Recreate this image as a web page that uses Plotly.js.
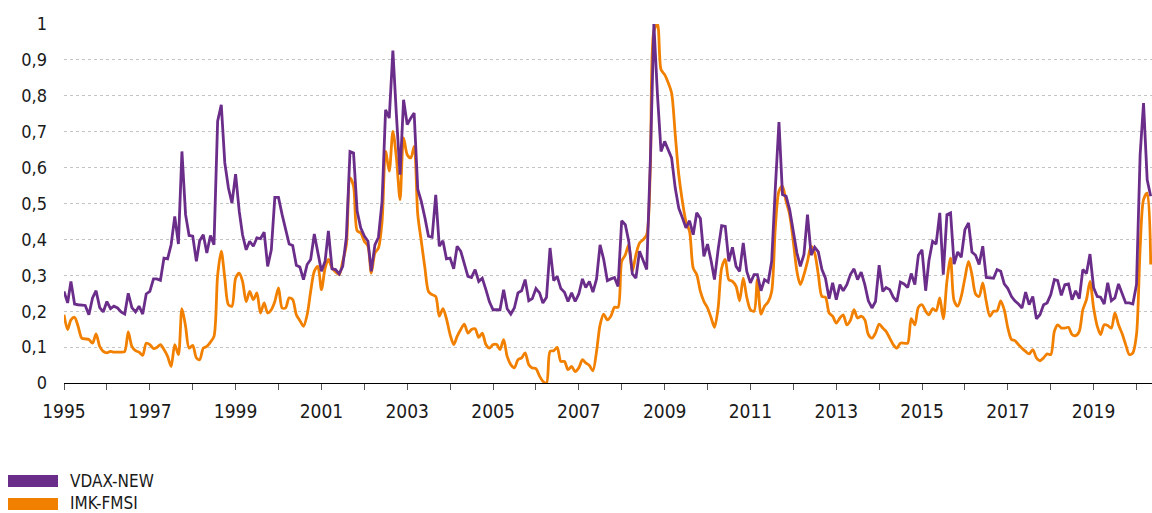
<!DOCTYPE html>
<html>
<head>
<meta charset="utf-8">
<script src="https://cdn.plot.ly/plotly-3.0.1.min.js"></script>
<style>
html,body{margin:0;padding:0;background:#fff;}
#chart{width:1152px;height:513px;}
</style>
</head>
<body>
<div id="chart"></div>
<script>
// Monthly series, January 1995 to May 2020
const startYear = 1995;
const vdaxNew = [
.255,.223,.283,.22,.218,.218,.216,.19,.237,.257,.21,.198,
.227,.207,.214,.209,.198,.192,.25,.21,.198,.214,.192,.248,
.255,.29,.29,.286,.348,.346,.385,.464,.387,.645,.469,.411,
.409,.339,.396,.413,.362,.411,.385,.729,.775,.613,.543,.501,
.582,.478,.413,.371,.395,.381,.404,.402,.42,.325,.371,.517,
.517,.469,.427,.387,.383,.328,.323,.288,.33,.344,.415,.367,
.311,.339,.424,.318,.316,.304,.325,.406,.645,.641,.478,.432,
.409,.395,.311,.385,.406,.506,.761,.738,.926,.747,.58,.789,
.72,.738,.752,.539,.506,.46,.409,.406,.524,.381,.396,.346,
.348,.318,.381,.367,.332,.297,.294,.316,.283,.292,.26,.226,
.204,.203,.204,.26,.207,.192,.209,.251,.257,.288,.229,.235,
.263,.251,.223,.239,.376,.285,.297,.263,.253,.227,.251,.227,
.248,.29,.266,.283,.253,.29,.385,.344,.285,.29,.294,.269,
.452,.441,.395,.304,.292,.367,.344,.316,.62,1.0,.8,.645,
.673,.65,.627,.543,.487,.46,.432,.452,.413,.474,.458,.353,
.387,.339,.288,.371,.438,.436,.339,.378,.325,.311,.39,.311,
.279,.302,.302,.257,.288,.281,.339,.543,.727,.525,.52,.483,
.422,.362,.325,.358,.469,.356,.378,.365,.316,.292,.235,.279,
.232,.274,.257,.274,.302,.318,.288,.309,.274,.229,.209,.227,
.328,.255,.266,.26,.239,.227,.281,.276,.266,.305,.274,.356,
.371,.257,.341,.395,.387,.474,.302,.469,.474,.331,.365,.35,
.427,.446,.365,.356,.33,.381,.294,.292,.292,.316,.311,.276,
.263,.241,.229,.22,.209,.253,.218,.241,.179,.19,.218,.223,
.246,.288,.285,.244,.274,.276,.232,.257,.235,.316,.305,.359,
.265,.241,.239,.22,.279,.229,.237,.276,.248,.223,.223,.22,
.274,.636,.78,.566,.52
];
const imkFmsi = [
.19,.149,.176,.183,.158,.125,.123,.121,.111,.137,.102,.088,
.084,.088,.086,.086,.086,.088,.142,.102,.09,.086,.077,.111,
.107,.096,.099,.107,.093,.074,.046,.107,.079,.207,.158,.097,
.105,.07,.065,.097,.102,.114,.13,.30,.367,.292,.218,.214,
.292,.306,.283,.227,.255,.232,.251,.195,.223,.195,.204,.227,
.265,.209,.209,.237,.232,.19,.174,.158,.19,.255,.311,.325,
.26,.32,.344,.32,.309,.302,.339,.385,.571,.548,.424,.418,
.395,.381,.306,.362,.376,.45,.645,.59,.701,.627,.511,.683,
.636,.627,.659,.469,.395,.32,.255,.246,.241,.186,.207,.179,
.135,.107,.13,.149,.164,.139,.149,.151,.127,.139,.107,.097,
.107,.107,.093,.121,.074,.051,.042,.065,.07,.084,.051,.042,
.04,.019,.005,0,.088,.09,.099,.06,.06,.037,.046,.032,
.042,.065,.056,.049,.034,.088,.162,.192,.176,.186,.211,.211,
.339,.357,.385,.311,.357,.39,.399,.413,.6,.98,1.0,.873,
.859,.836,.808,.692,.58,.506,.45,.422,.32,.302,.255,.227,
.209,.181,.155,.209,.32,.344,.288,.283,.269,.229,.292,.239,
.204,.2,.288,.192,.214,.226,.255,.432,.534,.548,.506,.469,
.395,.311,.274,.302,.339,.381,.362,.302,.241,.239,.195,.186,
.167,.181,.19,.162,.174,.204,.181,.186,.176,.135,.125,.139,
.164,.153,.144,.125,.107,.097,.111,.111,.111,.179,.162,.211,
.218,.2,.19,.207,.201,.237,.179,.283,.348,.229,.214,.241,
.292,.339,.302,.248,.241,.279,.227,.186,.2,.201,.229,.204,
.153,.121,.118,.107,.097,.088,.081,.093,.07,.062,.07,.081,
.079,.144,.162,.153,.153,.155,.135,.132,.144,.204,.232,.283,
.209,.158,.135,.162,.16,.153,.195,.162,.137,.107,.079,.084,
.135,.376,.511,.529,.33
];
const tickYears = [1995,1996,1997,1998,1999,2000,2001,2002,2003,2004,2005,2006,2007,2008,2009,2010,2011,2012,2013,2014,2015,2016,2017,2018,2019,2020];
const tickLabels = ["1995","","1997","","1999","","2001","","2003","","2005","","2007","","2009","","2011","","2013","","2015","","2017","","2019",""];
const yTicks = [0,0.1,0.2,0.3,0.4,0.5,0.6,0.7,0.8,0.9,1];
const seriesNames = ["VDAX-NEW","IMK-FMSI"];
const colors = ["#6b2d8a","#f28000"];

function monthDates(n){
  const out=[];
  for(let i=0;i<n;i++){
    const y=startYear+Math.floor(i/12), m=(i%12)+1;
    out.push(y+"-"+(m<10?"0":"")+m+"-01");
  }
  return out;
}

const FONT = "Liberation Sans Narrow, Arial Narrow, DejaVu Sans Condensed, sans-serif";

const traces = [
  {x:monthDates(imkFmsi.length), y:imkFmsi, type:"scatter", mode:"lines", name:seriesNames[1],
   line:{color:colors[1], width:2.8, shape:"spline", smoothing:0.8}, hoverinfo:"skip"},
  {x:monthDates(vdaxNew.length), y:vdaxNew, type:"scatter", mode:"lines", name:seriesNames[0],
   line:{color:colors[0], width:2.8}, hoverinfo:"skip"}
];

// paper coordinate helpers for legend placement (plot area: x 64..1152, y 24..383)
const W=1088, H=359;
const px=(p)=> (p-64)/W;
const py=(p)=> (383-p)/H;

const layout = {
  width:1152, height:513,
  margin:{l:64, r:0, t:24, b:130},
  paper_bgcolor:"#fff", plot_bgcolor:"#fff",
  separators:",.",
  showlegend:false,
  font:{family:FONT, color:"#1a1a1a", size:18},
  xaxis:{
    type:"date",
    range:["1995-01-01","2020-05-12"],
    tickmode:"array",
    tickvals:tickYears.map(y=>y+"-01-01"),
    ticktext:tickLabels,
    ticks:"outside", ticklen:6, tickwidth:1, tickcolor:"#555",
    showline:true, linecolor:"#000", linewidth:1.3,
    showgrid:false, zeroline:false,
    tickfont:{family:FONT, size:19, color:"#1a1a1a"},
    ticklabelstandoff:5
  },
  yaxis:{
    range:[0,1],
    tickmode:"array",
    tickvals:yTicks,
    ticktext:yTicks.map(v=>String(v).replace(".",",")),
    ticks:"",
    showline:false, zeroline:false,
    showgrid:true, gridcolor:"#c4c4c4", gridwidth:1, griddash:"dot",
    tickfont:{family:FONT, size:18, color:"#1a1a1a"},
    ticklabelstandoff:16
  },
  shapes:[
    {type:"rect", xref:"paper", yref:"paper", x0:px(8), x1:px(58), y0:py(475), y1:py(487), fillcolor:colors[0], line:{width:0}},
    {type:"rect", xref:"paper", yref:"paper", x0:px(8), x1:px(58), y0:py(498), y1:py(510), fillcolor:colors[1], line:{width:0}}
  ],
  annotations:[
    {xref:"paper", yref:"paper", x:px(68), y:py(481), xanchor:"left", yanchor:"middle", showarrow:false,
     text:seriesNames[0], font:{family:FONT, size:17, color:"#1a1a1a"}},
    {xref:"paper", yref:"paper", x:px(68), y:py(503), xanchor:"left", yanchor:"middle", showarrow:false,
     text:seriesNames[1], font:{family:FONT, size:17, color:"#1a1a1a"}}
  ]
};

Plotly.newPlot("chart", traces, layout, {displayModeBar:false, staticPlot:true});
</script>
</body>
</html>
